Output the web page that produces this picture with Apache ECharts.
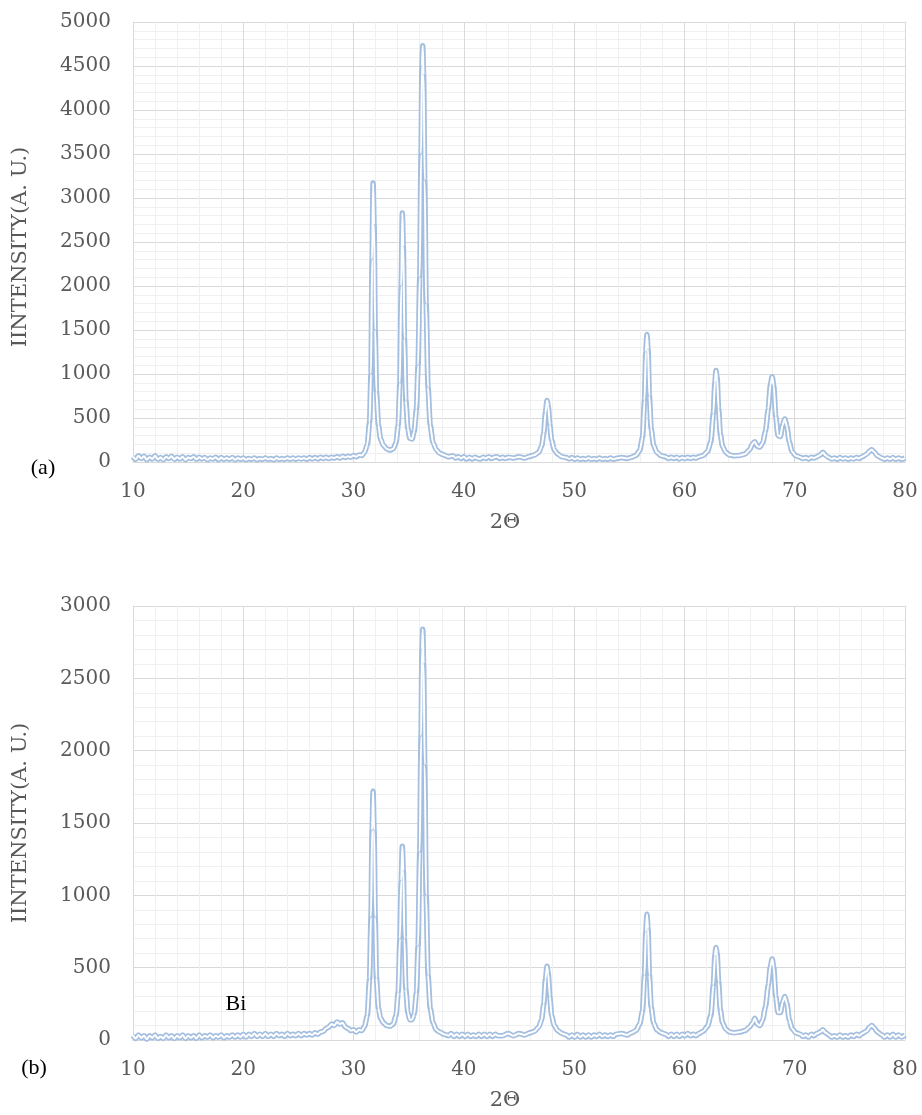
<!DOCTYPE html>
<html>
<head>
<meta charset="utf-8">
<script src="https://cdn.jsdelivr.net/npm/echarts@6/dist/echarts.min.js"></script>
<style>
  html, body { margin:0; padding:0; background:#fff; }
  #chart { width:922px; height:1115px; }
</style>
</head>
<body>
<div id="chart"></div>
<script>
// 2θ tick labels
const xTicks = [10, 20, 30, 40, 50, 60, 70, 80];
const yTicksA = [0, 500, 1000, 1500, 2000, 2500, 3000, 3500, 4000, 4500, 5000];
const yTicksB = [0, 500, 1000, 1500, 2000, 2500, 3000];

// (a) pattern: [2θ, intensity]
const xrdA = [
[10,60],[10.25,30],[10.5,70],[10.75,40],[11,65],[11.25,25],[11.5,55],[11.75,35],[12,70],[12.25,30],[12.5,50],[12.75,25],[13,60],[13.25,40],[13.5,65],[13.75,30],
[14,55],[14.25,35],[14.5,60],[14.75,25],[15,50],[15.25,40],[15.5,60],[15.75,30],[16,55],[16.25,35],[16.5,50],[16.75,25],[17,45],[17.25,35],[17.5,55],[17.75,25],
[18,50],[18.25,30],[18.5,45],[18.75,30],[19,50],[19.25,25],[19.5,45],[19.75,30],[20,45],[20.25,25],[20.5,40],[20.75,30],[21,45],[21.25,25],[21.5,40],[21.75,30],
[22,45],[22.25,30],[22.5,40],[22.75,25],[23,45],[23.25,30],[23.5,40],[23.75,30],[24,45],[24.25,30],[24.5,45],[24.75,30],[25,45],[25.25,35],[25.5,45],[25.75,30],
[26,50],[26.25,35],[26.5,50],[26.75,35],[27,55],[27.25,40],[27.5,55],[27.75,40],[28,55],[28.25,45],[28.5,60],[28.75,45],[29,65],[29.25,50],[29.5,65],[29.75,55],
[30,75],[30.25,60],[30.5,80],[30.75,75],
[31.0,110],[31.25,200],[31.45,450],[31.58,1000],[31.68,2300],[31.77,3170],[31.86,2700],[31.96,1500],[32.07,800],[32.25,420],[32.45,260],[32.7,190],[33.0,150],[33.3,135],[33.6,150],[33.85,220],
[34.05,420],[34.2,900],[34.32,2000],[34.42,2830],[34.51,2450],[34.61,1400],[34.74,700],[34.92,380],[35.1,270],[35.3,260],[35.5,350],[35.7,600],[35.85,1100],[36.0,2100],[36.12,3500],[36.2,4500],
[36.27,4730],[36.35,4400],[36.45,3200],[36.58,1800],[36.75,850],[36.95,420],[37.2,220],[37.5,140],[37.8,100],[38.2,80],[38.6,60],[39,70],[39.25,45],[39.5,60],[39.75,40],[40,60],[40.25,35],[40.5,55],
[40.75,35],[41,55],[41.25,40],[41.5,35],[41.75,55],[42,40],[42.25,60],[42.5,40],[42.75,55],[43,60],[43.25,40],[43.5,55],[43.75,40],[44,55],[44.5,45],[45,60],[45.5,45],[46,65],[46.4,80],[46.8,110],
[47.05,180],[47.25,330],[47.4,560],[47.54,700],[47.65,640],[47.8,420],[47.95,250],[48.2,140],
[48.5,90],[48.9,60],[49.3,50],[49.55,35],[49.8,50],[50.05,30],[50.3,45],[50.55,30],[50.8,40],[51.05,30],[51.3,45],[51.55,30],[51.8,40],[52.05,30],[52.3,45],[52.55,30],[52.8,40],[53.05,30],
[53.3,45],[53.55,30],[53.8,40],[54.3,50],[54.8,40],[55.2,55],[55.6,75],[55.95,130],[56.2,280],
[56.38,700],[56.5,1250],[56.6,1450],[56.7,1280],[56.82,750],[56.98,380],[57.2,190],[57.5,110],[57.9,70],[58.3,60],[58.55,40],[58.8,55],[59.05,40],[59.3,55],[59.55,35],[59.8,50],[60.05,40],
[60.3,55],[60.55,40],[60.8,55],[61.05,45],[61.3,60],[61.7,75],
[62.1,120],[62.4,230],[62.62,550],[62.76,900],[62.86,1040],[62.96,960],[63.1,600],[63.25,320],[63.45,180],[63.75,110],[64.1,80],[64.5,70],[65.0,75],[65.5,90],[65.9,140],[66.2,210],
[66.38,230],[66.6,180],[66.85,170],[67.1,220],[67.35,350],[67.6,600],[67.8,880],[67.96,970],[68.1,860],[68.28,520],[68.48,300],[68.7,290],[68.9,420],[69.1,490],[69.3,400],[69.5,230],
[69.75,120],[70.1,70],[70.5,55],[70.75,40],[71,50],[71.25,35],[71.5,55],[71.75,45],[72,60],[72.3,80],[72.56,110],[72.8,75],[73.1,50],[73.35,35],[73.6,45],[73.85,30],[74.1,50],[74.35,35],
[74.6,45],[74.85,30],[75.1,45],[75.35,35],[75.6,50],[75.85,40],[76.1,60],[76.5,85],[76.8,125],
[76.98,140],[77.2,115],[77.5,70],[77.9,45],[78.15,30],[78.4,45],[78.65,30],[78.9,50],[79.15,30],[79.4,45],[79.7,30],[80,45]
];

// (b) pattern: [2θ, intensity]
const xrdB = [
[10,30],[10.25,10],[10.5,35],[10.75,15],[11,30],[11.25,5],[11.5,30],[11.75,15],[12,35],[12.25,10],[12.5,25],[12.75,10],[13,35],[13.25,15],[13.5,30],[13.75,10],
[14,30],[14.25,15],[14.5,35],[14.75,10],[15,30],[15.25,15],[15.5,30],[15.75,10],[16,35],[16.25,15],[16.5,30],[16.75,20],[17,35],[17.25,15],[17.5,30],[17.75,20],
[18,35],[18.25,15],[18.5,30],[18.75,20],[19,35],[19.25,20],[19.5,35],[19.75,20],[20,40],[20.25,20],[20.5,40],[20.75,25],[21,45],[21.25,25],[21.5,40],[21.75,25],
[22,45],[22.25,25],[22.5,40],[22.75,25],[23,45],[23.25,30],[23.5,40],[23.75,25],[24,45],[24.25,30],[24.5,40],[24.75,30],[25,45],[25.25,30],[25.5,45],[25.75,35],
[26,45],[26.25,35],[26.5,50],[26.75,40],[27,55],[27.25,60],[27.5,80],[27.75,90],[28,110],[28.25,100],[28.5,125],[28.75,110],[29,120],[29.25,90],[29.5,80],[29.75,65],
[30,70],[30.25,55],[30.5,70],[30.75,65],
[31.0,95],[31.25,170],[31.45,420],[31.58,850],[31.68,1450],[31.77,1720],[31.86,1450],[31.96,850],[32.07,430],[32.25,220],[32.45,150],[32.7,120],[33.0,100],
[33.3,95],[33.6,110],[33.85,170],[34.05,330],[34.2,700],[34.32,1100],[34.42,1340],[34.51,1170],[34.61,700],[34.74,350],[34.92,190],[35.1,140],[35.3,140],[35.5,180],[35.7,330],[35.85,650],
[36.0,1300],[36.12,2100],[36.2,2700],[36.27,2840],[36.35,2600],[36.45,1900],[36.58,1000],[36.75,450],[36.95,220],[37.2,120],[37.5,70],[37.8,55],[38.2,40],[38.6,30],[38.85,45],[39.1,25],
[39.35,40],[39.6,25],[39.85,40],[40.1,25],[40.35,40],[40.6,25],[40.85,35],[41.1,25],[41.35,40],[41.6,25],[41.85,40],[42.1,25],[42.35,40],[42.6,25],[42.85,40],[43.1,30],[43.5,30],
[44,45],[44.5,30],[45,45],[45.5,35],[46,50],[46.4,60],[46.8,90],[47.05,140],[47.25,250],[47.4,420],[47.54,510],[47.65,460],
[47.8,300],[47.95,170],[48.2,100],[48.5,65],[48.9,45],[49.3,35],[49.55,20],[49.8,35],[50.05,20],[50.3,40],[50.55,20],[50.8,35],[51.05,20],[51.3,35],[51.55,20],[51.8,35],[52.05,25],
[52.3,40],[52.55,25],[52.8,35],[53.05,25],[53.3,35],[53.55,25],[53.8,40],[54.3,45],[54.8,35],[55.2,50],
[55.6,65],[55.95,110],[56.2,200],[56.38,450],[56.5,750],[56.6,870],[56.7,770],[56.82,450],[56.98,230],[57.2,120],[57.5,70],[57.9,50],[58.3,40],[58.55,25],[58.8,40],[59.05,25],[59.3,40],
[59.55,25],[59.8,40],[60.05,30],[60.3,45],[60.55,30],[60.8,40],[61.05,30],[61.3,45],[61.7,60],[62.1,95],[62.4,170],[62.62,380],[62.76,580],[62.86,640],[62.96,600],[63.1,400],[63.25,210],
[63.45,120],[63.75,75],[64.1,55],[64.5,50],[65.0,55],[65.5,65],
[65.9,90],[66.2,120],[66.38,150],[66.6,110],[66.85,100],[67.1,140],[67.35,230],[67.6,380],[67.8,510],[67.96,560],[68.1,500],[68.28,300],[68.48,190],[68.7,190],[68.9,260],[69.1,300],
[69.3,250],[69.5,140],[69.75,80],[70.1,50],[70.5,40],[70.75,25],[71,35],[71.25,20],[71.5,40],[71.75,30],[72,45],[72.3,55],[72.56,70],[72.8,50],[73.1,35],[73.35,20],[73.6,30],[73.85,20],
[74.1,35],[74.35,20],[74.6,30],[74.85,20],[75.1,35],[75.35,25],[75.6,40],[75.85,30],[76.1,45],
[76.5,60],[76.8,90],[76.98,100],[77.2,85],[77.5,55],[77.9,35],[78.15,20],[78.4,35],[78.65,20],[78.9,40],[79.15,20],[79.4,35],[79.7,20],[80,35]
];

const panelLabels = ['(a)', '(b)'];
const peakLabel = 'Bi';
const xName = '2Θ';
const yName = 'IINTENSITY(A. U.)';

const FONT = 'DejaVu Serif';
const tickStyle = { fontFamily: FONT, fontSize: 20, color: '#595959' };

function xAx(gi) {
  return {
    type: 'value', gridIndex: gi, min: xTicks[0], max: xTicks[xTicks.length - 1], interval: 10,
    axisLine: { show: true, lineStyle: { color: '#d9d9d9' } },
    axisTick: { show: false },
    axisLabel: Object.assign({ margin: 20, formatter: v => String(v) }, tickStyle),
    splitLine: { show: true, lineStyle: { color: '#d9d9d9', width: 1 } },
    minorTick: { show: false, splitNumber: 5 },
    minorSplitLine: { show: true, lineStyle: { color: '#f0f0f0', width: 1 } }
  };
}
function yAx(gi, ticks) {
  return {
    type: 'value', gridIndex: gi, min: ticks[0], max: ticks[ticks.length - 1], interval: 500,
    axisLine: { show: true, lineStyle: { color: '#d9d9d9' } },
    axisTick: { show: false },
    axisLabel: Object.assign({ margin: 22, formatter: v => String(v) }, tickStyle),
    splitLine: { show: true, lineStyle: { color: '#d9d9d9', width: 1 } },
    minorTick: { show: false, splitNumber: 5 },
    minorSplitLine: { show: true, lineStyle: { color: '#f0f0f0', width: 1 } }
  };
}
function lineSeries(gi, data, color, width, z) {
  return {
    type: 'line', xAxisIndex: gi, yAxisIndex: gi, data: data,
    showSymbol: false, smooth: 0.25, smoothMonotone: 'x',
    lineStyle: { color: color, width: width }, z: z, silent: true
  };
}

const titleFont = '21px "DejaVu Serif"';
function txt(x, y, text, font, fill, rot) {
  return { type: 'text', x: x, y: y, z: 100, zlevel: 1, rotation: rot || 0,
           style: { text: text, font: font, fill: fill, textAlign: 'center', textVerticalAlign: 'middle' } };
}
const chart = echarts.init(document.getElementById('chart'), null, { renderer: 'canvas' });
chart.setOption({
  animation: false,
  backgroundColor: '#ffffff',
  grid: [
    { left: 133, right: 17, top: 22, height: 440 },
    { left: 133, right: 17, top: 606, height: 434 }
  ],
  xAxis: [xAx(0), xAx(1)],
  yAxis: [yAx(0, yTicksA), yAx(1, yTicksB)],
  series: [
    lineSeries(0, xrdA, '#a3bedf', 5.5, 2),
    lineSeries(0, xrdA, '#ffffff', 2, 3),
    lineSeries(1, xrdB, '#a3bedf', 5.5, 2),
    lineSeries(1, xrdB, '#ffffff', 2, 3)
  ],
  graphic: [
    txt(505, 523, xName, titleFont, '#595959'),
    txt(505, 1101, xName, titleFont, '#595959'),
    txt(21, 247, yName, titleFont, '#595959', Math.PI / 2),
    txt(21, 823, yName, titleFont, '#595959', Math.PI / 2),
    txt(43, 468, panelLabels[0], '22px "Liberation Serif"', '#000'),
    txt(34, 1068, panelLabels[1], '22px "Liberation Serif"', '#000'),
    txt(236, 1004, peakLabel, '22px "Liberation Serif"', '#000')
  ]
});
</script>
</body>
</html>
